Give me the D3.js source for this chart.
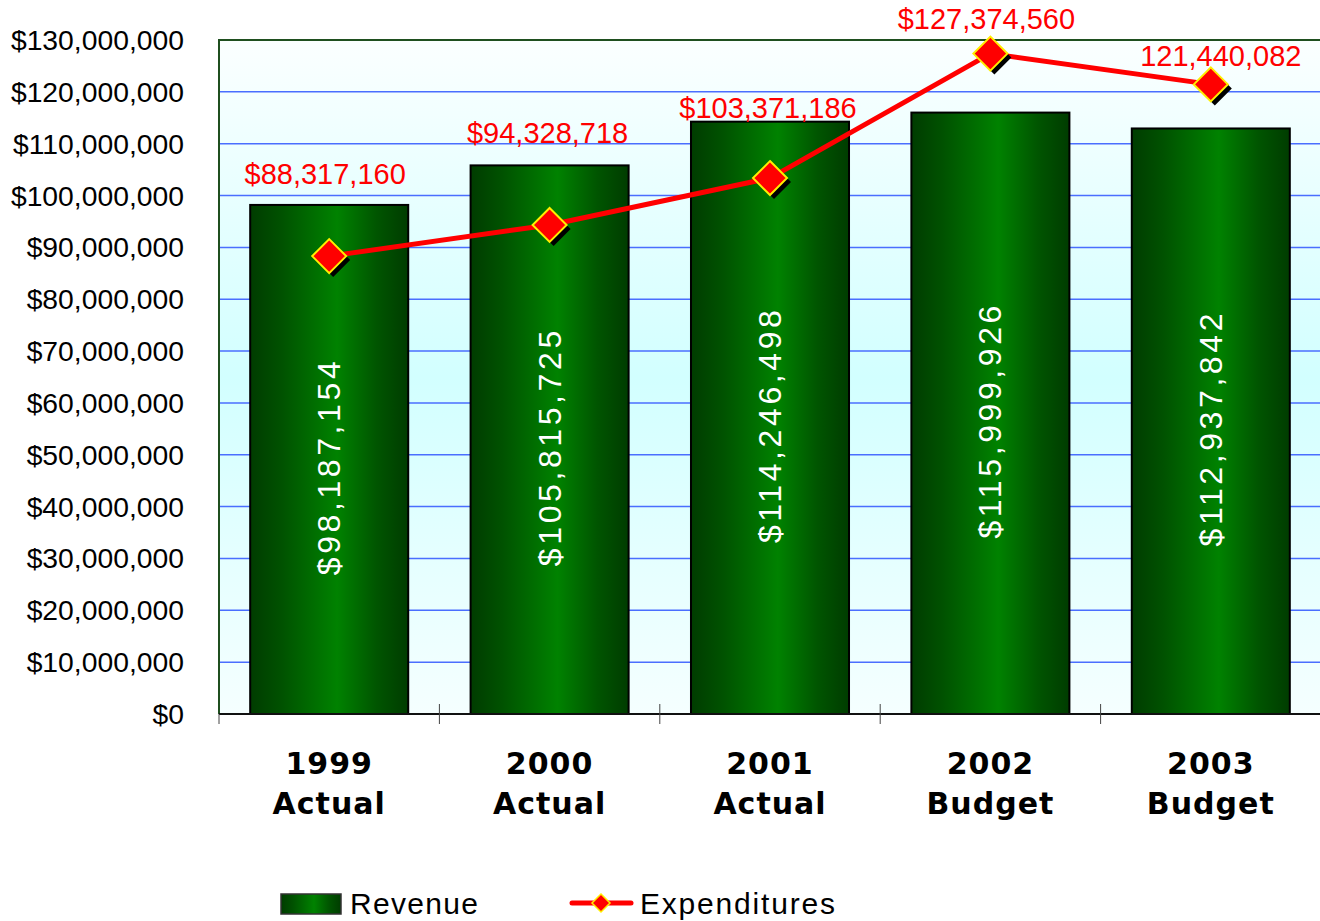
<!DOCTYPE html>
<html>
<head>
<meta charset="utf-8">
<script src="https://cdn.jsdelivr.net/npm/d3@7"></script>
<style>
  html, body { margin: 0; padding: 0; background: #ffffff; }
  svg { display: block; }
</style>
</head>
<body>
<svg id="chart" width="1320" height="921"></svg>
<script>
// ---- data ----
const categories = ["1999 Actual", "2000 Actual", "2001 Actual", "2002 Budget", "2003 Budget"];
const categoryLines = [["1999", "Actual"], ["2000", "Actual"], ["2001", "Actual"], ["2002", "Budget"], ["2003", "Budget"]];
const revenue = [98187154, 105815725, 114246498, 115999926, 112937842];
const expenditures = [88317160, 94328718, 103371186, 127374560, 121440082];
const expenditureLabels = ["$88,317,160", "$94,328,718", "$103,371,186", "$127,374,560", "121,440,082"];
const yTicks = [0, 10e6, 20e6, 30e6, 40e6, 50e6, 60e6, 70e6, 80e6, 90e6, 100e6, 110e6, 120e6, 130e6];
const seriesNames = ["Revenue", "Expenditures"];

// label placement offsets (layout only)
const expLabelDx = [-4, -2, -2, -4, 10];
const expLabelDy = [-72, -82, -60, -25, -18];

// ---- layout ----
const svg = d3.select("#chart");
const pLeft = 219, pRight = 1321, pTop = 40, pBottom = 714;

const x = d3.scaleBand().domain(categories).range([pLeft, pRight]).paddingInner(0.283).paddingOuter(0.1415);
const xStep = d3.scaleBand().domain(categories).range([pLeft, pRight]).padding(0);
const y = d3.scaleLinear().domain([0, 130e6]).range([pBottom, pTop]);

const defs = svg.append("defs");
const bg = defs.append("linearGradient").attr("id", "bgGrad").attr("x1", 0).attr("y1", 0).attr("x2", 0).attr("y2", 1);
bg.append("stop").attr("offset", "0%").attr("stop-color", "#fbffff");
bg.append("stop").attr("offset", "50%").attr("stop-color", "#d2ffff");
bg.append("stop").attr("offset", "100%").attr("stop-color", "#f5ffff");

const bar = defs.append("linearGradient").attr("id", "barGrad").attr("x1", 0).attr("y1", 0).attr("x2", 1).attr("y2", 0);
bar.append("stop").attr("offset", "0%").attr("stop-color", "#003c00");
bar.append("stop").attr("offset", "20%").attr("stop-color", "#005200");
bar.append("stop").attr("offset", "55%").attr("stop-color", "#008200");
bar.append("stop").attr("offset", "80%").attr("stop-color", "#005500");
bar.append("stop").attr("offset", "100%").attr("stop-color", "#003c00");

// plot background
svg.append("rect").attr("x", pLeft).attr("y", pTop).attr("width", pRight - pLeft).attr("height", pBottom - pTop)
  .attr("fill", "url(#bgGrad)");

// gridlines
svg.append("g").selectAll("line").data(yTicks.filter(d => d > 0 && d < 130e6)).join("line")
  .attr("x1", pLeft).attr("x2", pRight)
  .attr("y1", d => y(d)).attr("y2", d => y(d))
  .attr("stroke", "#4a6eff").attr("stroke-width", 1.5);

// frame (top and left)
svg.append("path")
  .attr("d", `M${pLeft},${pBottom}V${pTop}H${pRight}`)
  .attr("fill", "none").attr("stroke", "#1f4f1f").attr("stroke-width", 2);

// bars
svg.append("g").selectAll("rect").data(revenue).join("rect")
  .attr("x", (d, i) => x(categories[i]))
  .attr("y", d => y(d))
  .attr("width", x.bandwidth())
  .attr("height", d => pBottom - y(d))
  .attr("fill", "url(#barGrad)")
  .attr("stroke", "#000").attr("stroke-width", 2);

// bar value labels
const fmt = d3.format("$,");
svg.append("g").selectAll("text").data(revenue).join("text")
  .attr("transform", (d, i) => {
    const cx = x(categories[i]) + x.bandwidth() / 2 + 11;
    const cy = (y(d) + pBottom) / 2 + 7;
    return `translate(${cx},${cy}) rotate(-90)`;
  })
  .attr("text-anchor", "middle")
  .attr("font-family", "Liberation Sans, Arial, sans-serif")
  .attr("font-size", 32)
  .attr("letter-spacing", 3.6)
  .attr("fill", "#ffffff")
  .text(d => fmt(d));

// x axis line
svg.append("line").attr("x1", pLeft).attr("x2", pRight).attr("y1", pBottom).attr("y2", pBottom)
  .attr("stroke", "#111").attr("stroke-width", 2);

// x axis ticks at category boundaries
const boundaries = categories.map(c => xStep(c));
svg.append("g").selectAll("line").data(boundaries).join("line")
  .attr("x1", d => d).attr("x2", d => d)
  .attr("y1", (d, i) => i === 0 ? pBottom : pBottom - 10).attr("y2", pBottom + 10)
  .attr("stroke", "#444").attr("stroke-width", 1);

// y axis labels
svg.append("g").selectAll("text").data(yTicks).join("text")
  .attr("x", 184)
  .attr("y", d => y(d) + 10)
  .attr("text-anchor", "end")
  .attr("font-family", "Liberation Sans, Arial, sans-serif")
  .attr("font-size", 28.3)
  .attr("fill", "#000")
  .text(d => fmt(d));

// x axis labels
const xl = svg.append("g").selectAll("text").data(categoryLines).join("text")
  .attr("text-anchor", "middle")
  .attr("font-family", "DejaVu Sans, Verdana, sans-serif")
  .attr("font-weight", "bold")
  .attr("font-size", 30)
  .attr("letter-spacing", 1)
  .attr("fill", "#000");
xl.each(function(lines, i) {
  const cx = x(categories[i]) + x.bandwidth() / 2;
  d3.select(this).selectAll("tspan").data(lines).join("tspan")
    .attr("x", cx)
    .attr("y", (d, j) => 774 + j * 40)
    .text(d => d);
});

// expenditure line
const line = d3.line()
  .x((d, i) => x(categories[i]) + x.bandwidth() / 2)
  .y(d => y(d));
svg.append("path").datum(expenditures)
  .attr("d", line)
  .attr("fill", "none").attr("stroke", "#ff0000").attr("stroke-width", 5)
  .attr("stroke-linejoin", "round");

// diamonds
const dsz = 17;
const diamond = (cx, cy) => `M${cx},${cy - dsz}L${cx + dsz},${cy}L${cx},${cy + dsz}L${cx - dsz},${cy}Z`;
const mk = svg.append("g");
mk.selectAll("path.shadow").data(expenditures).join("path").attr("class", "shadow")
  .attr("d", (d, i) => diamond(x(categories[i]) + x.bandwidth() / 2 + 4, y(d) + 4))
  .attr("fill", "#000");
mk.selectAll("path.mark").data(expenditures).join("path").attr("class", "mark")
  .attr("d", (d, i) => diamond(x(categories[i]) + x.bandwidth() / 2, y(d)))
  .attr("fill", "#ff0000").attr("stroke", "#ffee00").attr("stroke-width", 2);

// expenditure labels
svg.append("g").selectAll("text").data(expenditures).join("text")
  .attr("x", (d, i) => x(categories[i]) + x.bandwidth() / 2 + expLabelDx[i])
  .attr("y", (d, i) => y(d) + expLabelDy[i])
  .attr("text-anchor", "middle")
  .attr("font-family", "Liberation Sans, Arial, sans-serif")
  .attr("font-size", 29)
  .attr("fill", "#ff0000")
  .text((d, i) => expenditureLabels[i]);

// legend
const lg = svg.append("g");
lg.append("rect").attr("x", 281).attr("y", 894).attr("width", 60).attr("height", 20)
  .attr("fill", "url(#barGrad)").attr("stroke", "#333").attr("stroke-width", 1.5);
lg.append("text").attr("x", 350).attr("y", 914)
  .attr("font-family", "Liberation Sans, Arial, sans-serif").attr("font-size", 30).attr("letter-spacing", 1.3)
  .attr("fill", "#000").text(seriesNames[0]);
lg.append("line").attr("x1", 572).attr("x2", 631).attr("y1", 903).attr("y2", 903)
  .attr("stroke", "#ff0000").attr("stroke-width", 5).attr("stroke-linecap", "round");
lg.append("path")
  .attr("d", "M601,894L610,903L601,912L592,903Z")
  .attr("fill", "#ff0000").attr("stroke", "#ffee00").attr("stroke-width", 1.5);
lg.append("text").attr("x", 640).attr("y", 914)
  .attr("font-family", "Liberation Sans, Arial, sans-serif").attr("font-size", 30).attr("letter-spacing", 1.8)
  .attr("fill", "#000").text(seriesNames[1]);
</script>
</body>
</html>
